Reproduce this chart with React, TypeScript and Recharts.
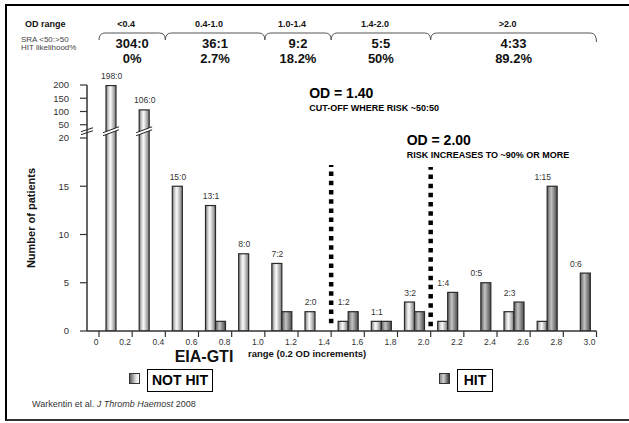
import React from 'react';
import {
  ComposedChart,
  Bar,
  Line,
  XAxis,
  YAxis,
  ReferenceArea,
  ReferenceLine,
  LabelList,
  Legend,
} from 'recharts';

const FONT = '"Liberation Sans", Arial, Helvetica, sans-serif';

// ---------- data ----------
const binCenters = [0.1, 0.3, 0.5, 0.7, 0.9, 1.1, 1.3, 1.5, 1.7, 1.9, 2.1, 2.3, 2.5, 2.7, 2.9];
const notHitCounts = [198, 106, 15, 13, 8, 7, 2, 1, 1, 3, 1, 0, 2, 1, 0];
const hitCounts = [0, 0, 0, 1, 0, 2, 0, 2, 1, 2, 4, 5, 3, 15, 6];
const xTicks = [0, 0.2, 0.4, 0.6, 0.8, 1.0, 1.2, 1.4, 1.6, 1.8, 2.0, 2.2, 2.4, 2.6, 2.8, 3.0];
const yTickValues = [0, 5, 10, 15, 20, 50, 100, 150, 200];

const rangeLabels = ['<0.4', '0.4-1.0', '1.0-1.4', '1.4-2.0', '>2.0'];
const rangeBounds = [0, 0.4, 1.0, 1.4, 2.0, 3.0];
const rangeRatios = ['304:0', '36:1', '9:2', '5:5', '4:33'];
const rangePercents = ['0%', '2.7%', '18.2%', '50%', '89.2%'];

const cutoffValues = [1.4, 2.0];
const cutoffTitles = ['OD = 1.40', 'OD = 2.00'];
const cutoffNotes = ['CUT-OFF WHERE RISK ~50:50', 'RISK INCREASES TO ~90% OR MORE'];

// ---------- broken y-axis transform ----------
const LOWER_MAX = 20;
const UPPER_STOPS = [20, 50, 100, 150, 200];
const UPPER_STEP = 1.3725;
function toAxis(v: number): number {
  if (v <= LOWER_MAX) return v;
  for (let i = 1; i < UPPER_STOPS.length; i++) {
    const a = UPPER_STOPS[i - 1];
    const b = UPPER_STOPS[i];
    if (v <= b || i === UPPER_STOPS.length - 1) {
      return LOWER_MAX + (i - 1 + (v - a) / (b - a)) * UPPER_STEP;
    }
  }
  return v;
}
const Y_MAX = toAxis(200);
const BREAK_AT = 20.7;
const yTickDisp = yTickValues.map(toAxis);
const yLabelMap = new Map(yTickDisp.map((d, i) => [d.toFixed(4), String(yTickValues[i])]));

const data = binCenters.map((x, i) => ({
  x,
  notHit: notHitCounts[i],
  hit: hitCounts[i],
  notHitY: toAxis(notHitCounts[i]),
  hitY: toAxis(hitCounts[i]),
  topY: toAxis(Math.max(notHitCounts[i], hitCounts[i])),
  label: `${notHitCounts[i]}:${hitCounts[i]}`,
}));

// ---------- shapes ----------
const breakMark = (cx: number, by: number, half: number, rise: number, key: string) => (
  <g key={key}>
    <polygon
      points={`${cx - half},${by + rise / 2 - 1.5} ${cx + half},${by - rise / 2 - 1.5} ${cx + half},${by - rise / 2 + 1.5} ${cx - half},${by + rise / 2 + 1.5}`}
      fill="#fff"
      stroke="none"
    />
    <line x1={cx - half} y1={by + rise / 2 - 1.5} x2={cx + half} y2={by - rise / 2 - 1.5} stroke="#222" strokeWidth={1} />
    <line x1={cx - half} y1={by + rise / 2 + 1.5} x2={cx + half} y2={by - rise / 2 + 1.5} stroke="#222" strokeWidth={1} />
  </g>
);

const makeBarShape = (grad: string, key: 'notHitY' | 'hitY') => (props: any) => {
  const { x, y, width, height, payload } = props;
  if (!height || height <= 0.3) return <g />;
  const v = payload[key];
  const by = y + height - (BREAK_AT / v) * height;
  return (
    <g>
      <rect x={x} y={y} width={width} height={height} fill={`url(#${grad})`} stroke="#2a2a2a" strokeWidth={1.2} />
      {v > BREAK_AT ? breakMark(x + width / 2, by, 8, 6, 'b') : null}
    </g>
  );
};

const XTick = (p: any) => {
  const { x, y, payload } = p;
  const v = payload.value as number;
  const txt = v === 0 ? '0' : v.toFixed(1);
  return (
    <text x={x + (v === 0 ? -3 : -7)} y={y} dy="0.71em" textAnchor="middle" fontSize={8.5} fill="#333" fontFamily={FONT}>
      {txt}
    </text>
  );
};

const YTick = (p: any) => {
  const { x, y, payload } = p;
  const txt = yLabelMap.get(Number(payload.value).toFixed(4)) ?? '';
  return (
    <text x={x} y={y} dy="0.35em" textAnchor="end" fontSize={9.5} fill="#333" fontFamily={FONT}>
      {txt}
    </text>
  );
};

const BarLabel = (p: any) => {
  const { x, y, value } = p;
  return (
    <text x={x - 4} y={y - 6.5} textAnchor="middle" fontSize={8.5} fill="#333" fontFamily={FONT}>
      {value}
    </text>
  );
};

const headerShape = (i: number) => (p: any) => {
  const a = p.x;
  const b = p.x + p.width;
  const cx = (a + b) / 2;
  const endDrop = i === rangeLabels.length - 1 ? 42 : 40;
  return (
    <g fontFamily={FONT}>
      <path
        d={`M${a},40 Q${a},33 ${a + 6},33 L${b - 6},33 Q${b},33 ${b},${endDrop}`}
        fill="none"
        stroke="#555"
        strokeWidth={1}
      />
      <text x={cx - 6} y={27} textAnchor="middle" fontSize={9} fontWeight="bold" fill="#111">
        {rangeLabels[i]}
      </text>
      <text x={cx} y={47.5} textAnchor="middle" fontSize={13} fontWeight="bold" fill="#111">
        {rangeRatios[i]}
      </text>
      <text x={cx} y={62.5} textAnchor="middle" fontSize={13} fontWeight="bold" fill="#111">
        {rangePercents[i]}
      </text>
    </g>
  );
};

const cutoffLayout = [
  { dx: -22, titleY: 98, noteY: 110.5, from: 0.8, to: 17.2 },
  { dx: -24, titleY: 145, noteY: 157.5, from: 0.5, to: 17.0 },
];

const cutoffShape = (i: number) => (p: any) => {
  const { x1, y1, x2, y2 } = p;
  const lx = x1 + cutoffLayout[i].dx;
  return (
    <g fontFamily={FONT}>
      <line x1={x1} y1={y1} x2={x2} y2={y2} stroke="#000" strokeWidth={4.5} strokeDasharray="4.5 4.7" />
      <text x={lx} y={cutoffLayout[i].titleY} fontSize={14} fontWeight="bold" fill="#000">
        {cutoffTitles[i]}
      </text>
      <text x={lx} y={cutoffLayout[i].noteY} fontSize={9} fontWeight="bold" fill="#000">
        {cutoffNotes[i]}
      </text>
    </g>
  );
};

const axisBreakShape = (p: any) => {
  const { x1, y1 } = p;
  return breakMark(x1, y1, 6, 4, 'axis');
};

const legendItems = [
  { label: 'NOT HIT', swatch: 'linear-gradient(to right, #5f5f5f, #e0e0e0 65%, #ffffff)', sx: 129, bx: 147, bw: 66 },
  { label: 'HIT', swatch: 'linear-gradient(to right, #8a8a8a, #d0d0d0 40%, #3a3a3a)', sx: 439, bx: 457, bw: 36 },
];

const LegendContent = () => (
  <div style={{ position: 'relative', width: 629, height: 32, fontFamily: FONT }}>
    {legendItems.map((it) => (
      <React.Fragment key={it.label}>
        <div
          style={{
            position: 'absolute',
            left: it.sx,
            top: 8,
            width: 11,
            height: 11,
            background: it.swatch,
            border: '1px solid #333',
            boxSizing: 'border-box',
          }}
        />
        <div
          style={{
            position: 'absolute',
            left: it.bx,
            top: 4,
            width: it.bw,
            height: 23,
            border: '1px solid #000',
            boxSizing: 'border-box',
            fontSize: 14,
            fontWeight: 'bold',
            lineHeight: '21px',
            textAlign: 'center',
            color: '#000',
          }}
        >
          {it.label}
        </div>
      </React.Fragment>
    ))}
  </div>
);

export default function App() {
  return (
    <div style={{ position: 'absolute', left: 0, top: 0, width: 629, height: 423, background: '#fff', fontFamily: FONT, overflow: 'hidden' }}>
      <div
        style={{
          position: 'absolute',
          left: 5,
          top: 4,
          width: 660,
          height: 417,
          boxSizing: 'border-box',
          borderLeft: '2px solid #000',
          borderTop: '2px solid #000',
          borderBottom: '2px solid #333',
        }}
      />
      <ComposedChart
        width={629}
        height={423}
        data={data}
        margin={{ top: 85, right: 32.5, bottom: 72, left: 0 }}
        barGap={0}
        barSize={10}
      >
        <defs>
          <linearGradient id="gNot" x1="0" y1="0" x2="1" y2="0">
            <stop offset="0%" stopColor="#7c7c7c" />
            <stop offset="30%" stopColor="#dedede" />
            <stop offset="45%" stopColor="#fafafa" />
            <stop offset="100%" stopColor="#767676" />
          </linearGradient>
          <linearGradient id="gHit" x1="0" y1="0" x2="1" y2="0">
            <stop offset="0%" stopColor="#5c5c5c" />
            <stop offset="40%" stopColor="#c4c4c4" />
            <stop offset="100%" stopColor="#4a4a4a" />
          </linearGradient>
        </defs>
        <text x={25} y={27} fontSize={9} fontWeight="bold" fill="#111" fontFamily={FONT}>OD range</text>
        <text x={21} y={42} fontSize={8} fill="#444" fontFamily={FONT}>SRA &lt;50:&gt;50</text>
        <text x={21} y={50} fontSize={8} fill="#444" fontFamily={FONT}>HIT likelihood%</text>
        <text x={31} y={218} transform="rotate(-90 31 218)" textAnchor="middle" dominantBaseline="central" fontSize={11} fontWeight="bold" fill="#111" fontFamily={FONT}>
          Number of patients
        </text>
        <text x={204} y={362} textAnchor="middle" fontSize={16} fontWeight="bold" fill="#111" fontFamily={FONT}>EIA-GTI</text>
        <text x={248} y={356.5} fontSize={9.5} fontWeight="bold" fill="#111" fontFamily={FONT}>range (0.2 OD increments)</text>
        <text x={32} y={407} fontSize={9} fill="#333" fontFamily={FONT}>
          Warkentin et al. <tspan fontStyle="italic">J Thromb Haemost</tspan> 2008
        </text>

        <XAxis
          type="number"
          dataKey="x"
          domain={[0, 3]}
          ticks={xTicks}
          interval={0}
          allowDataOverflow
          padding={{ left: 12, right: 0 }}
          tickSize={6}
          tickMargin={2}
          tick={XTick}
          axisLine={{ stroke: '#333', strokeWidth: 1.5 }}
          tickLine={{ stroke: '#333', strokeWidth: 1.2 }}
          height={20}
        />
        <YAxis
          type="number"
          domain={[0, Y_MAX]}
          ticks={yTickDisp}
          interval={0}
          allowDataOverflow
          width={87}
          tickSize={7}
          tickMargin={11}
          tick={YTick}
          axisLine={{ stroke: '#333', strokeWidth: 1.5 }}
          tickLine={{ stroke: '#333', strokeWidth: 1.2 }}
        />

        {rangeLabels.map((_, i) => (
          <ReferenceArea
            key={`ra${i}`}
            x1={rangeBounds[i]}
            x2={rangeBounds[i + 1]}
            ifOverflow="visible"
            shape={headerShape(i)}
          />
        ))}

        <Bar dataKey="notHitY" name="NOT HIT" fill="url(#gNot)" isAnimationActive={false} shape={makeBarShape('gNot', 'notHitY')} />
        <Bar dataKey="hitY" name="HIT" fill="url(#gHit)" isAnimationActive={false} shape={makeBarShape('gHit', 'hitY')} />
        <Line dataKey="topY" stroke="none" dot={false} activeDot={false} isAnimationActive={false} legendType="none">
          <LabelList dataKey="label" content={BarLabel} />
        </Line>

        <ReferenceLine y={BREAK_AT} ifOverflow="visible" shape={axisBreakShape} />
        {cutoffValues.map((c, i) => (
          <ReferenceLine
            key={`cl${i}`}
            segment={[
              { x: c, y: cutoffLayout[i].from },
              { x: c, y: cutoffLayout[i].to },
            ]}
            ifOverflow="visible"
            shape={cutoffShape(i)}
          />
        ))}

        <Legend
          layout="horizontal"
          verticalAlign="middle"
          align="center"
          content={LegendContent}
          wrapperStyle={{ position: 'absolute', left: 0, top: 365, width: 629, height: 32 }}
        />
      </ComposedChart>
    </div>
  );
}
